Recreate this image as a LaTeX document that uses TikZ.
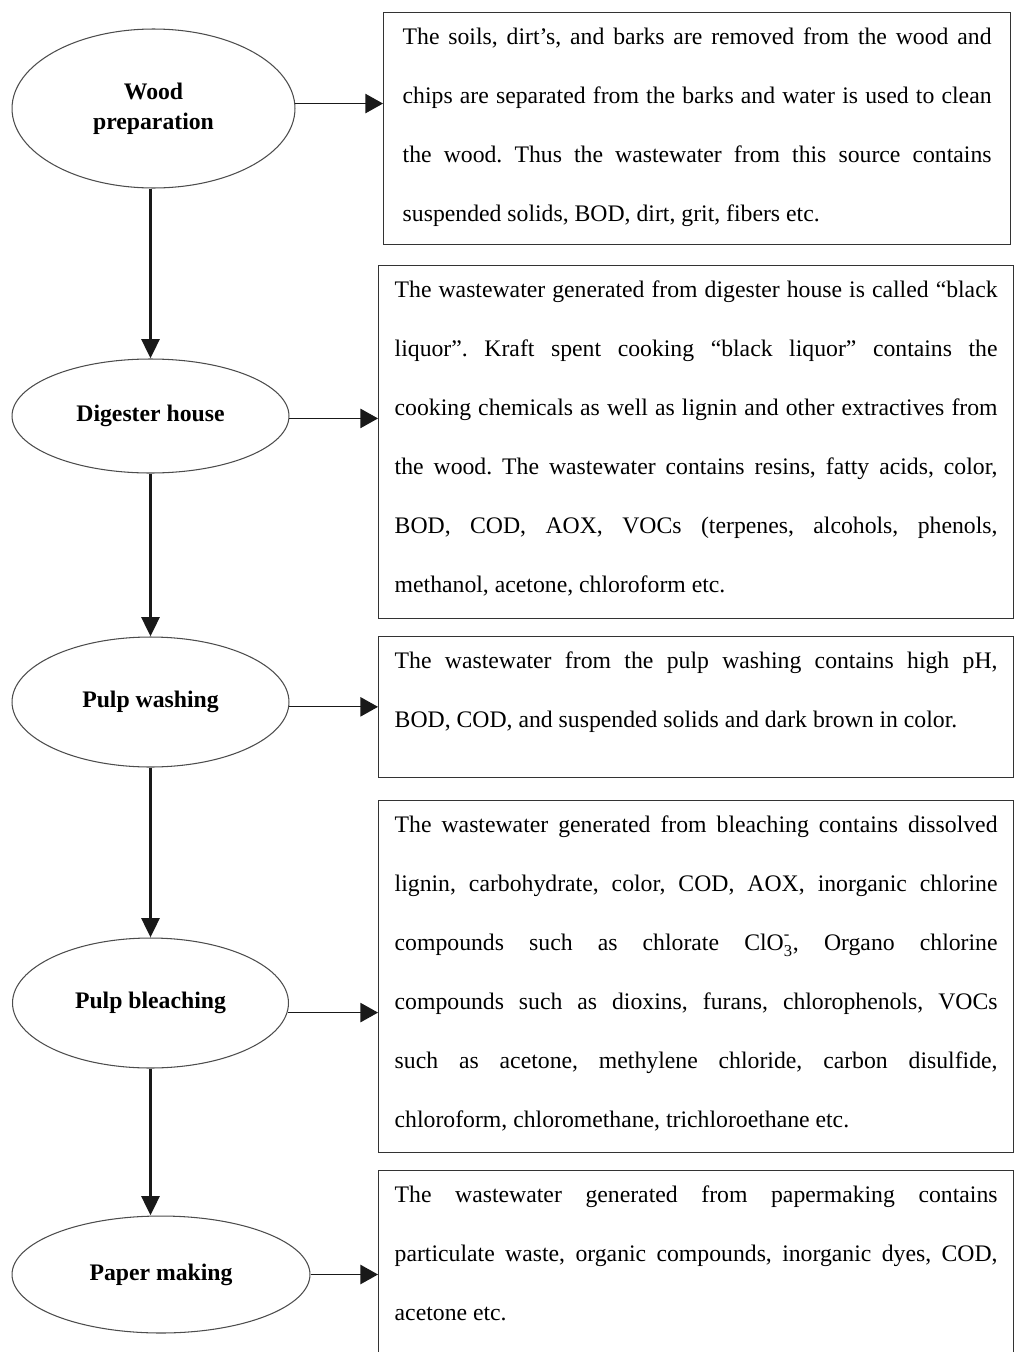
\documentclass[tikz,border=0pt]{standalone}
\usepackage{amsmath}
\usepackage{fontspec}
\setmainfont{Liberation Serif}
\usetikzlibrary{arrows.meta,shapes.geometric}
\frenchspacing
\newcommand{\fullline}[1]{\makebox[\linewidth][s]{#1}}
\newcommand{\desctext}[3]{\parbox[c][#1][t]{#2}{\fontsize{13.5pt}{1.18cm}\selectfont #3}}

\begin{document}
\begin{tikzpicture}[x=0.02cm,y=-0.02cm,
    stage/.style={ellipse,draw=black!70,line width=0.6pt,inner sep=0pt,align=center,
        font=\fontsize{13.5pt}{17pt}\selectfont\bfseries},
    desc/.style={draw=black!80,line width=0.8pt,anchor=north west,inner xsep=0.32cm,inner ysep=0.3cm},
    flow/.style={-{Triangle[length=11pt,width=10pt]},line width=2.2pt,draw=black!90},
    feed/.style={-{Triangle[length=10pt,width=11pt]},line width=0.7pt,draw=black!90}]
            \useasboundingbox (0,0) rectangle (1014,1352);
            \node[stage,minimum width=5.66cm,minimum height=3.18cm] (wood) at (153.5,108.5) {Wood\\preparation};
            \node[stage,minimum width=5.54cm,minimum height=2.28cm] (dig) at (150.5,416) {Digester house};
            \node[stage,minimum width=5.54cm,minimum height=2.6cm] (wash) at (150.5,702) {Pulp washing};
            \node[stage,minimum width=5.52cm,minimum height=2.6cm] (bleach) at (150.5,1003) {Pulp bleaching};
            \node[stage,minimum width=5.96cm,minimum height=2.34cm] (paper) at (161,1274.5) {Paper making};
            \node[desc,inner xsep=0.38cm] (d1) at (383,12) {\desctext{4.04cm}{11.78cm}{%
                \fullline{The soils, dirt’s, and barks are removed from the wood and}\\
                \fullline{chips are separated from the barks and water is used to clean}\\
                \fullline{the wood. Thus the wastewater from this source contains}\\
                suspended solids, BOD, dirt, grit, fibers etc.}};
            \node[desc] (d2) at (378,265) {\desctext{6.46cm}{12.06cm}{%
                \fullline{The wastewater generated from digester house is called “black}\\
                \fullline{liquor”. Kraft spent cooking “black liquor” contains the}\\
                \fullline{cooking chemicals as well as lignin and other extractives from}\\
                \fullline{the wood. The wastewater contains resins, fatty acids, color,}\\
                \fullline{BOD, COD, AOX, VOCs (terpenes, alcohols, phenols,}\\
                methanol, acetone, chloroform etc.}};
            \node[desc] (d3) at (378,636) {\desctext{2.22cm}{12.06cm}{%
                \fullline{The wastewater from the pulp washing contains high pH,}\\
                BOD, COD, and suspended solids and dark brown in color.}};
            \node[desc] (d4) at (378,800) {\desctext{6.44cm}{12.06cm}{%
                \fullline{The wastewater generated from bleaching contains dissolved}\\
                \fullline{lignin, carbohydrate, color, COD, AOX, inorganic chlorine}\\
                \fullline{compounds such as chlorate \(\text{ClO}_{\text{3}}^{\text{-}}\), Organo chlorine}\\
                \fullline{compounds such as dioxins, furans, chlorophenols, VOCs}\\
                \fullline{such as acetone, methylene chloride, carbon disulfide,}\\
                chloroform, chloromethane, trichloroethane etc.}};
            \node[desc] (d5) at (378,1170) {\desctext{3.6cm}{12.06cm}{%
                \fullline{The wastewater generated from papermaking contains}\\
                \fullline{particulate waste, organic compounds, inorganic dyes, COD,}\\
                acetone etc.}};
            \draw[flow] (wood.south -| dig.north) -- (dig.north);
            \draw[flow] (dig.south) -- (wash.north);
            \draw[flow] (wash.south) -- (bleach.north);
            \draw[flow] (bleach.south) -- (bleach.south |- paper.north);
            \draw[feed] (wood.2) -- (wood.2 -| d1.west);
            \draw[feed] (dig.-1) -- (dig.-1 -| d2.west);
            \draw[feed] (wash.-2) -- (wash.-2 -| d3.west);
            \draw[feed] (bleach.-4) -- (bleach.-4 -| d4.west);
            \draw[feed] (paper.east) -- (paper.east -| d5.west);
        \end{tikzpicture}
\end{document}
